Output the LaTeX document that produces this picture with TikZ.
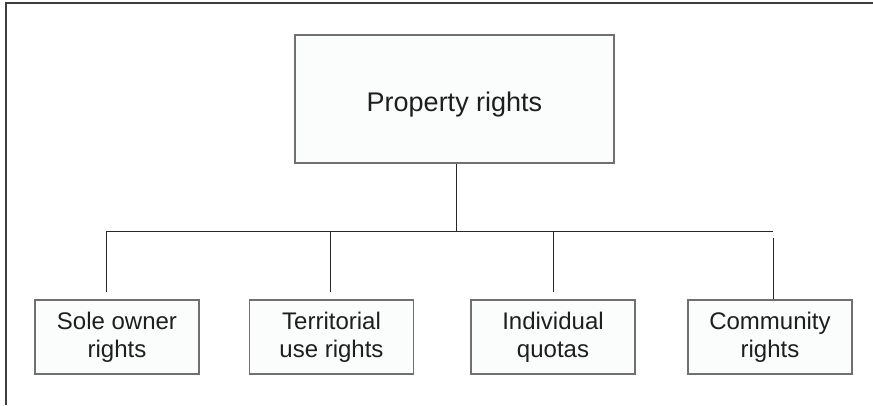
\documentclass[tikz,border=0pt]{standalone}
\usepackage{fontspec}
\setmainfont{Liberation Sans}
\definecolor{boxline}{RGB}{112,112,112}
\definecolor{wire}{RGB}{40,40,40}
\definecolor{ink}{RGB}{30,30,30}
\definecolor{boxfill}{RGB}{251,252,252}
\begin{document}
\begin{tikzpicture}[x=1pt,y=-1pt,
  box/.style={draw=boxline, fill=boxfill, line width=1.1pt, inner sep=0pt,
    text=ink, align=center},
  topbox/.style={box, minimum width=319pt, minimum height=128pt,
    font=\fontsize{27}{32}\selectfont,
    execute at begin node={\rule{0pt}{31pt}}},
  leafbox/.style={box, minimum width=164pt, minimum height=74pt,
    font=\fontsize{24}{28}\selectfont,
    execute at begin node={\rule{0pt}{24pt}}},
  wire/.style={draw=wire, line width=0.9pt}]
\useasboundingbox (0,0) rectangle (873,405);

% frame edges
\draw[draw=wire!90, line width=2pt] (6,405) -- (6,3) -- (873,3);

% nodes
\node[topbox] (root) at (454.5,99) {Property rights};
\node[leafbox] (sole) at (117,337) {Sole owner\\rights};
\node[leafbox] (terr) at (331.5,337) {Territorial\\use rights};
\node[leafbox] (indiv) at (553,337) {Individual\\quotas};
\node[leafbox] (comm) at (770,337) {Community\\rights};

% branch points on the bus line
\coordinate (hub) at (456,231);
\coordinate (busL) at (106,231);
\coordinate (busR) at (773,231);
\coordinate (tapT) at (330,231);
\coordinate (tapI) at (553,231);

% connectors
\draw[wire] (root.south -| hub) -- (hub);
\draw[wire] (busL) -- (busR);
\draw[wire, shorten >=7pt] (busL) -- (sole.north -| busL);
\draw[wire, shorten >=7pt] (tapT) -- (terr.north -| tapT);
\draw[wire, shorten >=7pt] (tapI) -- (indiv.north -| tapI);
\draw[wire, shorten <=7pt] (busR) -- (comm.north -| busR);
\end{tikzpicture}
\end{document}
